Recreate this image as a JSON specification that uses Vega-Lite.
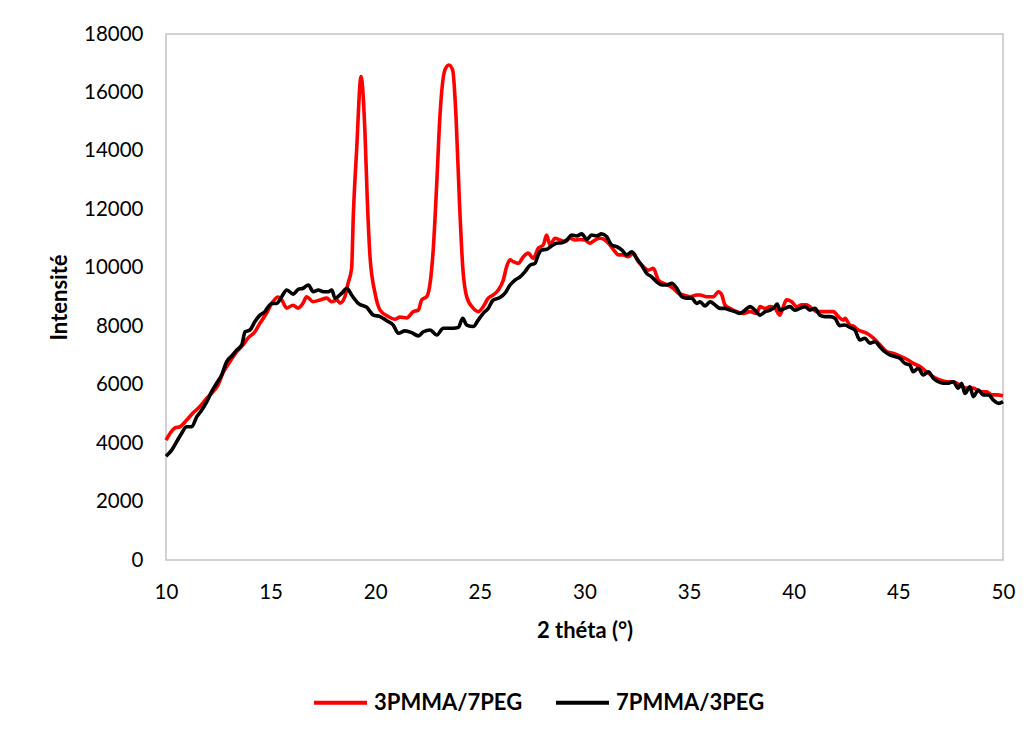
{
  "$schema": "https://vega.github.io/schema/vega-lite/v6.json",
  "autosize": {"type": "none"},
  "padding": {"left": 166, "top": 34, "right": 31, "bottom": 175},
  "width": 837,
  "height": 526,
  "background": "white",
  "config": {
    "view": {"stroke": "#c4c4c4", "strokeWidth": 1.5},
    "font": "Lato"
  },
  "datasets": {
    "red": [
      [10.0,4100],[10.43,4520],[10.67,4560],[10.99,4790],[11.29,5030],[11.62,5250],[11.95,5540],[12.25,5760],[12.49,5990],[12.72,6400],[13.06,6790],[13.38,7130],[13.68,7360],[13.92,7590],[14.25,7810],[14.49,8100],[14.81,8450],[15.11,8840],[15.35,9000],[15.53,8900],[15.77,8620],[16.07,8720],[16.31,8620],[16.55,8790],[16.72,9010],[17.03,8840],[17.36,8900],[17.68,8960],[17.92,8840],[18.16,8900],[18.32,8790],[18.55,9010],[18.7,9470],[18.87,9980],[18.95,11750],[19.11,14030],[19.32,16540],[19.51,14600],[19.62,12320],[19.75,10380],[19.99,9130],[20.23,8550],[20.62,8330],[20.94,8240],[21.18,8310],[21.5,8280],[21.82,8500],[22.06,8550],[22.22,8900],[22.46,9010],[22.62,9470],[22.77,10610],[22.94,12900],[23.09,15170],[23.33,16770],[23.52,16940],[23.7,16770],[23.86,15170],[24.02,12320],[24.18,10040],[24.37,9010],[24.69,8610],[24.92,8500],[25.16,8670],[25.4,8960],[25.64,9070],[25.88,9240],[26.12,9580],[26.28,10040],[26.44,10270],[26.6,10210],[26.84,10150],[27.08,10380],[27.31,10500],[27.55,10320],[27.79,10670],[28.03,10780],[28.19,11120],[28.35,10780],[28.59,11010],[28.83,10950],[29.07,10890],[29.31,11010],[29.55,10950],[29.78,10970],[30.02,10950],[30.26,10840],[30.5,10950],[30.74,11010],[30.98,10950],[31.22,10780],[31.46,10550],[31.62,10440],[31.85,10440],[32.09,10380],[32.33,10500],[32.57,10210],[32.81,10040],[33.05,9920],[33.29,9980],[33.53,9580],[33.77,9470],[34.0,9410],[34.24,9300],[34.48,9130],[34.72,9070],[35.04,9010],[35.36,9070],[35.52,9070],[35.84,9010],[36.16,9010],[36.4,9180],[36.56,9070],[36.71,8730],[36.95,8610],[37.27,8500],[37.59,8440],[37.91,8500],[38.23,8440],[38.39,8670],[38.63,8610],[38.87,8670],[39.1,8610],[39.34,8380],[39.5,8670],[39.66,8900],[39.9,8840],[40.14,8670],[40.38,8730],[40.62,8730],[40.86,8610],[41.1,8500],[41.34,8500],[41.57,8500],[41.89,8500],[42.13,8330],[42.37,8210],[42.45,8270],[42.68,8040],[42.85,8000],[43.09,7870],[43.49,7760],[43.81,7590],[44.13,7360],[44.44,7130],[44.76,7070],[45.08,6980],[45.4,6870],[45.71,6730],[46.03,6620],[46.35,6440],[46.67,6270],[46.99,6160],[47.31,6100],[47.62,6100],[47.94,5990],[48.26,5880],[48.58,5880],[48.9,5760],[49.22,5760],[49.46,5650],[49.7,5650],[50.0,5620]
    ],
    "black": [
      [10.0,3550],[10.27,3760],[10.51,4050],[10.75,4340],[10.99,4560],[11.23,4560],[11.47,4900],[11.71,5130],[11.95,5420],[12.18,5760],[12.42,6050],[12.66,6330],[12.9,6790],[13.14,6980],[13.38,7190],[13.62,7360],[13.78,7810],[14.01,7870],[14.25,8160],[14.49,8380],[14.73,8500],[14.89,8670],[15.05,8780],[15.29,8780],[15.53,9010],[15.77,9240],[16.08,9100],[16.32,9260],[16.56,9300],[16.8,9410],[17.04,9180],[17.28,9240],[17.52,9180],[17.76,9180],[17.92,9240],[18.08,8960],[18.4,9130],[18.64,9300],[18.87,9070],[19.19,8780],[19.59,8650],[19.91,8380],[20.23,8330],[20.55,8190],[20.86,8040],[21.1,7760],[21.42,7840],[21.74,7780],[22.06,7670],[22.3,7810],[22.62,7870],[22.94,7700],[23.25,7930],[23.49,7930],[23.73,7930],[23.97,7960],[24.18,8270],[24.37,8040],[24.69,7990],[24.92,8210],[25.16,8440],[25.4,8610],[25.64,8900],[25.96,8980],[26.2,9130],[26.44,9410],[26.68,9580],[26.92,9690],[27.16,9870],[27.4,10090],[27.63,10150],[27.79,10440],[27.95,10610],[28.19,10630],[28.43,10750],[28.67,10840],[28.91,10860],[29.15,10950],[29.39,11120],[29.63,11090],[29.87,11160],[30.11,10970],[30.34,11120],[30.58,11090],[30.82,11160],[31.06,11060],[31.3,10780],[31.54,10720],[31.78,10610],[32.02,10440],[32.26,10550],[32.49,10320],[32.73,10090],[32.97,9810],[33.21,9690],[33.45,9520],[33.69,9410],[33.93,9410],[34.17,9470],[34.41,9300],[34.65,9010],[34.89,8960],[35.12,8960],[35.36,8780],[35.52,8840],[35.76,8690],[36.0,8840],[36.24,8730],[36.48,8610],[36.71,8610],[36.95,8550],[37.19,8500],[37.43,8440],[37.67,8550],[37.91,8670],[38.15,8550],[38.39,8380],[38.63,8500],[38.87,8550],[39.1,8670],[39.21,8760],[39.34,8550],[39.58,8610],[39.82,8670],[40.06,8550],[40.3,8610],[40.54,8670],[40.77,8550],[41.01,8610],[41.25,8380],[41.49,8330],[41.73,8330],[41.97,8270],[42.2,8020],[42.44,8040],[42.68,7960],[42.92,7870],[43.16,7530],[43.4,7590],[43.64,7420],[43.88,7470],[44.11,7300],[44.35,7130],[44.59,7020],[44.83,6960],[45.07,6900],[45.31,6730],[45.55,6670],[45.71,6440],[45.95,6560],[46.19,6330],[46.43,6440],[46.67,6220],[46.91,6100],[47.15,6050],[47.39,6050],[47.62,6100],[47.86,5880],[48.02,6050],[48.18,5700],[48.42,5930],[48.58,5590],[48.82,5820],[49.06,5650],[49.3,5650],[49.54,5470],[49.78,5360],[50.0,5420]
    ]
  },
  "data": {"name": "red"},
  "transform": [
    {"calculate": "datum[0]", "as": "theta"},
    {"calculate": "datum[1]", "as": "intensite"},
    {"calculate": "'3PMMA/7PEG'", "as": "serie"}
  ],
  "layer": [
    {
      "mark": {"type": "line", "strokeWidth": 3.6, "interpolate": "monotone"},
      "encoding": {
        "x": {"field": "theta", "type": "quantitative"},
        "y": {"field": "intensite", "type": "quantitative"},
        "color": {"field": "serie", "type": "nominal"}
      }
    },
    {
      "data": {"name": "black"},
      "transform": [
        {"calculate": "datum[0]", "as": "theta"},
        {"calculate": "datum[1]", "as": "intensite"},
        {"calculate": "'7PMMA/3PEG'", "as": "serie"}
      ],
      "mark": {"type": "line", "strokeWidth": 3.6, "interpolate": "monotone"},
      "encoding": {
        "x": {"field": "theta", "type": "quantitative"},
        "y": {"field": "intensite", "type": "quantitative"},
        "color": {"field": "serie", "type": "nominal"}
      }
    }
  ],
  "resolve": {"scale": {"x": "shared", "y": "shared", "color": "shared"}},
  "encoding": {
    "x": {
      "field": "theta", "type": "quantitative",
      "scale": {"domain": [10, 50], "nice": false, "zero": false},
      "axis": {
        "title": "2 théta (°)", "values": [10, 15, 20, 25, 30, 35, 40, 45, 50],
        "grid": false, "ticks": false, "domain": false, "labelFlush": false,
        "labelFont": "Lato", "labelFontSize": 20.5, "labelColor": "#000000", "labelPadding": 22,
        "titleFont": "Lato", "titleFontSize": 22, "titleFontWeight": "bold", "titleColor": "#000000", "titlePadding": 18
      }
    },
    "y": {
      "field": "intensite", "type": "quantitative",
      "scale": {"domain": [0, 18000], "nice": false},
      "axis": {
        "title": "Intensité", "values": [0, 2000, 4000, 6000, 8000, 10000, 12000, 14000, 16000, 18000],
        "format": "d",
        "grid": false, "ticks": false, "domain": false,
        "labelFont": "Lato", "labelFontSize": 20.5, "labelColor": "#000000", "labelPadding": 23,
        "titleFont": "Lato", "titleFontSize": 22, "titleFontWeight": "bold", "titleColor": "#000000", "titlePadding": 12
      }
    },
    "color": {
      "field": "serie", "type": "nominal",
      "scale": {"domain": ["3PMMA/7PEG", "7PMMA/3PEG"], "range": ["#ff0000", "#000000"]},
      "legend": {
        "title": null, "orient": "none", "direction": "horizontal",
        "legendX": 146, "legendY": 640,
        "symbolType": "stroke", "symbolSize": 2809, "symbolStrokeWidth": 4,
        "labelFont": "Lato", "labelFontSize": 22, "labelFontWeight": "bold", "labelColor": "#000000",
        "labelOffset": 5, "columnPadding": 25, "labelLimit": 300
      }
    }
  }
}
